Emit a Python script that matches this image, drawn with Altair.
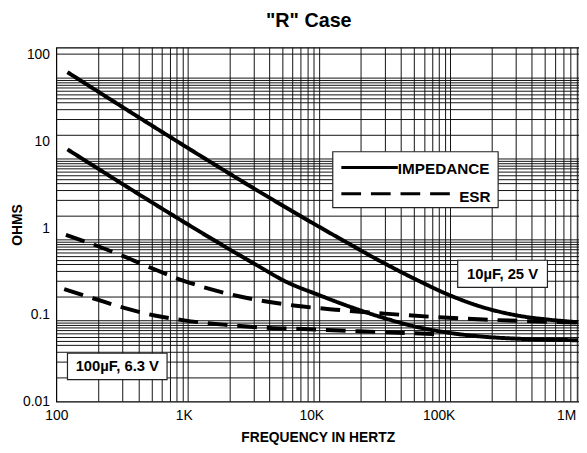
import altair as alt
import pandas as pd

FONT = "Liberation Sans"

# ---- axes ----
freq_ticks = [100, 1000, 10000, 100000, 1000000]
freq_labels = ["100", "1K", "10K", "100K", "1M"]
ohm_ticks = [0.01, 0.1, 1, 10, 100]
x_domain = [100, 1260600]
y_domain = [0.01, 121.4]

# ---- printed graph-paper grid ----
grid_freq = [215.1, 332, 447, 566, 677, 786, 884, 990, 1082,
             2312, 3571, 4716, 5987, 7153, 8296, 9446, 10512, 11637,
             24586, 38170, 50770, 64350, 77850, 89790, 101000, 113200, 123750,
             262800, 405200, 538900, 684200, 826500, 959900, 1087400, 1222900]
grid_ohm = [101.9,
            53.89, 50.60, 47.53, 44.51, 41.47, 38.04, 34.52, 31.09, 28.00, 23.31, 17.94, 11.80,
            6.289, 5.905, 5.547, 5.194, 4.840, 4.439, 4.028, 3.628, 3.268, 2.720, 2.094, 1.377,
            0.7339, 0.6891, 0.6473, 0.6061, 0.5648, 0.5180, 0.4701, 0.4234, 0.3814, 0.3174, 0.2444, 0.1607,
            0.08565, 0.08042, 0.07554, 0.07073, 0.06591, 0.06045, 0.05486, 0.04941, 0.04451, 0.03704, 0.02852, 0.01875]

# ---- curves ----
imp10_f = [122.3, 16910, 37705, 68234, 123760, 223930, 405200, 734850, 1238500]
imp10_z = [63.07, 0.7538, 0.3915, 0.2508, 0.1671, 0.1220, 0.09895, 0.08796, 0.08236]

imp100_f = [122.3, 3720, 6349, 11493, 20835, 37705, 68234, 123760, 223930, 405200, 1238500]
imp100_z = [8.110, 0.3764, 0.2412, 0.1693, 0.1220, 0.09148, 0.07226, 0.06176, 0.05606, 0.05318, 0.05099]

esr10_f = [118.9, 202.9, 346.2, 556.1, 948.9, 1619, 2763, 4716, 7590, 15474, 37705, 91876, 223930, 545660, 1238500]
esr10_z = [0.8368, 0.6355, 0.4666, 0.3479, 0.2541, 0.1981, 0.1628, 0.1409, 0.1276, 0.1149, 0.1035, 0.09465, 0.08841, 0.08435, 0.08175]

esr100_f = [115.3, 202.9, 346.2, 590.7, 1008, 2056, 4716, 7590, 23431, 91876]
esr100_z = [0.1981, 0.1525, 0.1195, 0.09845, 0.08636, 0.07718, 0.07076, 0.06911, 0.06473, 0.06017]

# ---- annotations ----
box_labels = ["10\u00b5F, 25 V", "100\u00b5F, 6.3 V"]
box_f1 = [140900, 122.3]
box_f2 = [712800, 739.3]
box_z1 = [0.4270, 0.03610]
box_z2 = [0.2072, 0.01794]
box_tf = [316960, 300.7]
box_tz = [0.2974, 0.02548]

legend_box_f = [14750, 292600]
legend_box_z = [7.616, 1.729]
legend_names = ["IMPEDANCE", "ESR"]
legend_line_f1 = [17220, 17220]
legend_line_f2 = [47780, 132830]
legend_line_z = [5.008, 2.495]
legend_text_f = [47780, 255000]
legend_text_z = [4.84, 2.264]
legend_text_align = ["left", "right"]

# ---- tables ----
def curve(name, kind, f, z):
    return pd.DataFrame({"f": f, "z": z, "series": name, "kind": kind, "order": range(len(f))})

df_curves = pd.concat([
    curve("imp10", "solid", imp10_f, imp10_z),
    curve("imp100", "solid", imp100_f, imp100_z),
    curve("esr10", "dash", esr10_f, esr10_z),
    curve("esr100", "dash", esr100_f, esr100_z),
])
df_vgrid = pd.DataFrame({"f": grid_freq})
df_hgrid = pd.DataFrame({"z": grid_ohm})
df_boxes = pd.DataFrame({"label": box_labels, "f1": box_f1, "f2": box_f2,
                         "z1": box_z1, "z2": box_z2, "tf": box_tf, "tz": box_tz})
df_legbox = pd.DataFrame({"f1": [legend_box_f[0]], "f2": [legend_box_f[1]],
                          "z1": [legend_box_z[0]], "z2": [legend_box_z[1]]})
df_leg = pd.DataFrame({"name": legend_names, "f1": legend_line_f1, "f2": legend_line_f2,
                       "z": legend_line_z, "tf": legend_text_f, "tz": legend_text_z,
                       "align": legend_text_align})

xscale = alt.Scale(type="log", domain=x_domain, nice=False)
yscale = alt.Scale(type="log", domain=y_domain, nice=False)

label_expr = " : ".join(
    f"datum.value == {v} ? '{l}'" for v, l in zip(freq_ticks, freq_labels)
) + " : ''"

xaxis = alt.Axis(values=freq_ticks, labelExpr=label_expr, title="FREQUENCY IN HERTZ",
                 labelFlush=False, labelOverlap=False, ticks=False, grid=False, domain=False,
                 labelPadding=7, titlePadding=8)
yaxis = alt.Axis(values=ohm_ticks, format="~g", title="OHMS",
                 labelOverlap=False, ticks=False, grid=False, domain=False,
                 labelPadding=7, titlePadding=-1.5)


def X(field):
    return alt.X(field, type="quantitative", scale=xscale, axis=xaxis)


def Y(field):
    return alt.Y(field, type="quantitative", scale=yscale, axis=yaxis)


vgrid = alt.Chart(df_vgrid).mark_rule(color="#111", strokeWidth=1).encode(x=X("f"))
hgrid = alt.Chart(df_hgrid).mark_rule(color="#111", strokeWidth=1).encode(y=Y("z"))

boxes = alt.Chart(df_boxes).mark_rect(fill="white", stroke="#222", strokeWidth=1.2).encode(
    x=X("f1"), x2="f2", y=Y("z1"), y2="z2")
box_text = alt.Chart(df_boxes).mark_text(font=FONT, fontSize=15, fontWeight="bold",
                                         color="black", baseline="middle").encode(
    x=X("tf"), y=Y("tz"), text="label")

lines = alt.Chart(df_curves).mark_line(color="black", strokeWidth=4, interpolate="monotone").encode(
    x=X("f"), y=Y("z"), detail="series", order="order",
    strokeDash=alt.StrokeDash("kind:N", scale=alt.Scale(domain=["solid", "dash"], range=[[1, 0], [20, 10]]),
                              legend=None))

legbox = alt.Chart(df_legbox).mark_rect(fill="white", stroke="#222", strokeWidth=1.2).encode(
    x=X("f1"), x2="f2", y=Y("z1"), y2="z2")
leglines = alt.Chart(df_leg).mark_rule(color="black", strokeWidth=3).encode(
    x=X("f1"), x2="f2", y=Y("z"),
    strokeDash=alt.StrokeDash("name:N", scale=alt.Scale(domain=legend_names, range=[[1, 0], [26, 17]]),
                              legend=None))
legtext_l = alt.Chart(df_leg).transform_filter("datum.align == 'left'").mark_text(
    font=FONT, fontSize=15.5, fontWeight="bold", color="black", align="left", baseline="middle").encode(
    x=X("tf"), y=Y("tz"), text="name")
legtext_r = alt.Chart(df_leg).transform_filter("datum.align == 'right'").mark_text(
    font=FONT, fontSize=15.5, fontWeight="bold", color="black", align="right", baseline="middle").encode(
    x=X("tf"), y=Y("tz"), text="name")

chart = alt.layer(vgrid, hgrid, boxes, lines, box_text, legbox, leglines, legtext_l, legtext_r).properties(
    width=530, height=359,
    title=alt.TitleParams('"R" Case', font=FONT, fontSize=20, fontWeight="bold", anchor="middle",
                          offset=16, dx=-9, color="black"),
    autosize=alt.AutoSizeParams(type="none"),
    padding={"left": 49, "top": 37, "right": 0, "bottom": 45},
).configure_view(stroke="black", strokeWidth=1.2).configure_axis(
    labelFont=FONT, labelFontSize=14, labelColor="black",
    titleFont=FONT, titleFontSize=14, titleFontWeight="bold", titleColor="black",
)

chart.save("out.html", embed_options={"renderer": "svg", "actions": False})
